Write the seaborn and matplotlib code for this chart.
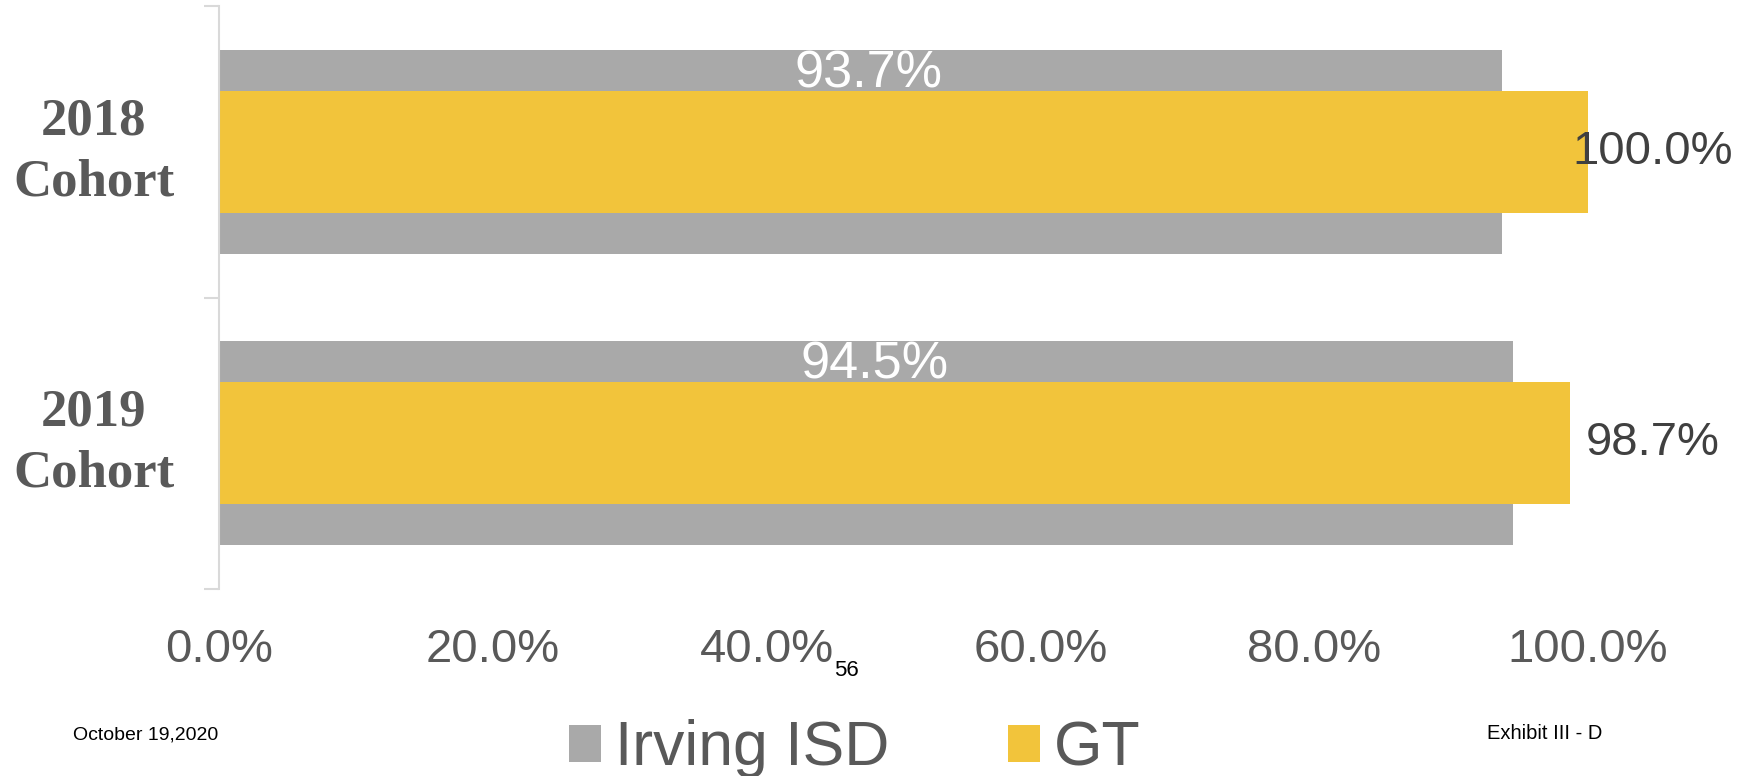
import matplotlib
matplotlib.use("Agg")
import matplotlib.pyplot as plt
import seaborn as sns
import pandas as pd
from matplotlib.patches import Patch

# ---- data ----
cohorts = ["2018\nCohort", "2019\nCohort"]
irving_isd = [93.7, 94.5]
gt = [100.0, 98.7]
x_ticks = [0, 20, 40, 60, 80, 100]
series_names = ["Irving ISD", "GT"]
page_number = "56"
date_text = "October 19,2020"
exhibit_text = "Exhibit III - D"

# ---- style ----
sns.set_style("white")
plt.rcParams["font.family"] = ["Liberation Sans", "DejaVu Sans"]

GRAY = "#A9A9A9"
GOLD = "#F2C43B"
TXT = "#595959"
AXIS = "#D9D9D9"

W, H = 1756, 776
fig = plt.figure(figsize=(W / 100, H / 100), dpi=100)
ax = fig.add_axes([219 / W, 1 - 589 / H, (1588 - 219) / W, (589 - 6) / H])

df = pd.DataFrame({"cohort": cohorts, "Irving ISD": irving_isd, "GT": gt})

gray_w, gold_w = 0.70, 0.42
sns.barplot(data=df, x="Irving ISD", y="cohort", orient="h", color=GRAY,
            width=gray_w, saturation=1, ax=ax, linewidth=0)
sns.barplot(data=df, x="GT", y="cohort", orient="h", color=GOLD,
            width=gold_w, saturation=1, ax=ax, linewidth=0)

n = len(cohorts)
ax.set_xlim(0, 100)
ax.set_ylim(n - 0.5, -0.5)
ax.set_xlabel("")
ax.set_ylabel("")

# spines
for s in ["top", "right", "bottom"]:
    ax.spines[s].set_visible(False)
ax.spines["left"].set_color(AXIS)
ax.spines["left"].set_linewidth(1.5)

# x ticks
ax.set_xticks(x_ticks)
ax.set_xticklabels([f"{t:.1f}%" for t in x_ticks])
ax.tick_params(axis="x", length=0, pad=28, labelsize=34, labelcolor=TXT)

# y ticks: labels at centres, tick marks at boundaries
ax.set_yticks(range(n))
ax.set_yticklabels(cohorts)
ax.set_yticks([i - 0.5 for i in range(n + 1)], minor=True)
ax.tick_params(axis="y", which="major", length=0, pad=90)
ax.tick_params(axis="y", which="minor", length=11, width=1.5, color=AXIS, left=True)
for lbl in ax.get_yticklabels():
    lbl.set_ha("center")
    lbl.set_va("center")
    lbl.set_multialignment("center")
    lbl.set_fontfamily("Liberation Serif")
    lbl.set_fontweight("bold")
    lbl.set_fontsize(38)
    lbl.set_color(TXT)
    lbl.set_linespacing(1.36)

# data labels
strip = (gray_w + gold_w) / 4
for i, v in enumerate(irving_isd):
    ax.annotate(f"{v:.1f}%", (v / 2, i - strip), xytext=(6, -2.5), textcoords="offset points",
                ha="center", va="center", color="white", fontsize=37.5)

fig.canvas.draw()
renderer = fig.canvas.get_renderer()
pad_px = 16
right_limit = W - 23
for i, v in enumerate(gt):
    xp, yp = ax.transData.transform((v, i))
    t = fig.text((xp + pad_px) / W, yp / H, f"{v:.1f}%", ha="left", va="center",
                 color="#404040", fontsize=34)
    bb = t.get_window_extent(renderer)
    if bb.x1 > right_limit:
        t.set_x((bb.x0 - (bb.x1 - right_limit)) / W)

# legend
handles = [Patch(facecolor=GRAY, edgecolor="none"), Patch(facecolor=GOLD, edgecolor="none")]
leg = fig.legend(handles, series_names, loc="center", bbox_to_anchor=(855 / W, 1 - 749 / H),
                 ncol=2, frameon=False, fontsize=45, handlelength=0.51, handleheight=0.53,
                 handletextpad=0.22, columnspacing=1.9, borderpad=0, borderaxespad=0)
for t in leg.get_texts():
    t.set_color(TXT)

# footer texts
fig.text(834 / W, 1 - 676 / H, page_number, ha="left", va="baseline", fontsize=16, color="black")
fig.text(73 / W, 1 - 739 / H, date_text, ha="left", va="baseline", fontsize=14, color="black")
fig.text(1487 / W, 1 - 739 / H, exhibit_text, ha="left", va="baseline", fontsize=14.5, color="black")

fig.savefig("out.png", dpi=100)
